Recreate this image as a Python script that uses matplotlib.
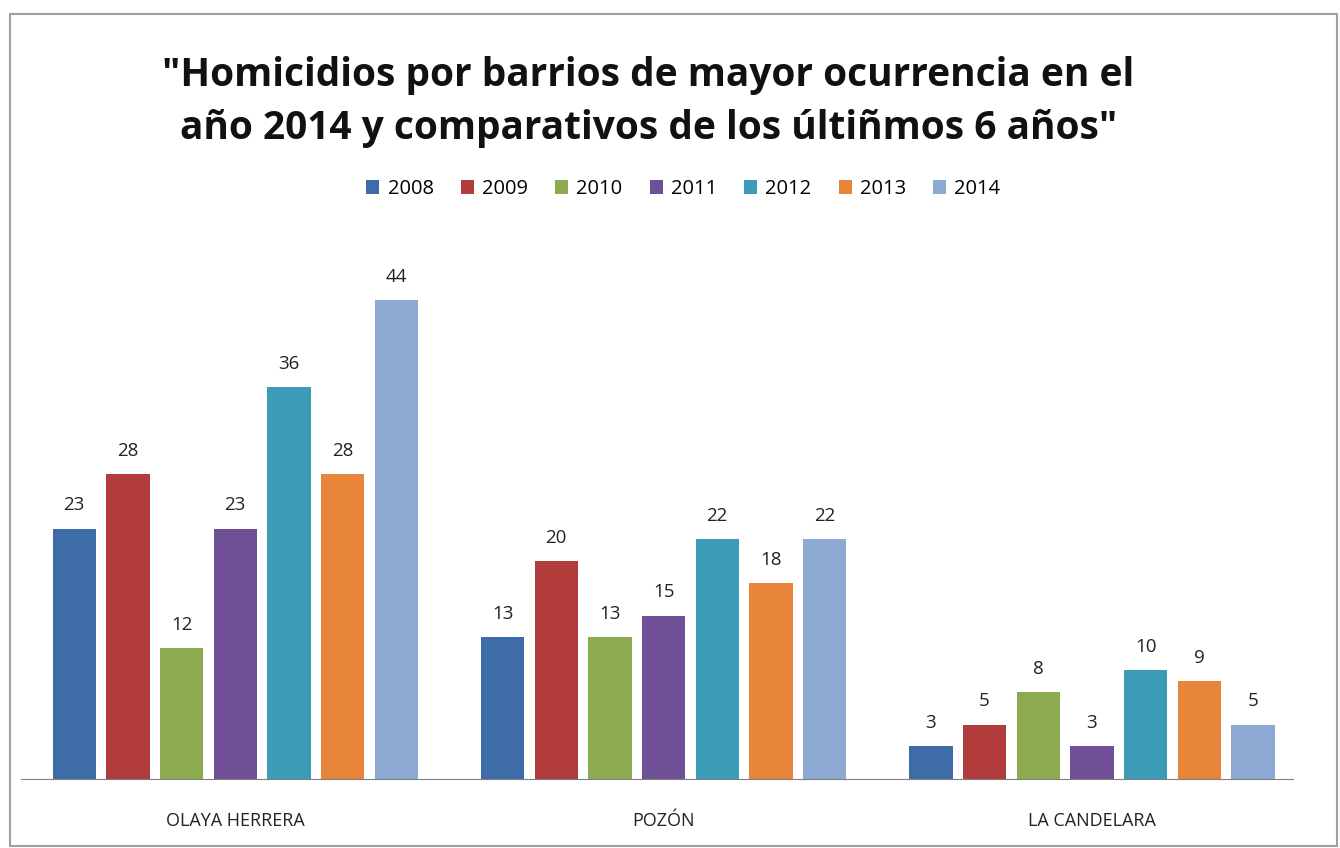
import numpy as np
import matplotlib.pyplot as plt
from matplotlib.patches import Rectangle

# data
barrios = ["OLAYA HERRERA", "POZÓN", "LA CANDELARA"]
years = ["2008", "2009", "2010", "2011", "2012", "2013", "2014"]
v2008 = [23, 13, 3]
v2009 = [28, 20, 5]
v2010 = [12, 13, 8]
v2011 = [23, 15, 3]
v2012 = [36, 22, 10]
v2013 = [28, 18, 9]
v2014 = [44, 22, 5]
series = [v2008, v2009, v2010, v2011, v2012, v2013, v2014]
colors = ["#3d6ca8", "#b13c3b", "#8cab50", "#6f5096", "#3c9cb7", "#e8853b", "#8ea9d4"]

plt.rcParams['font.family'] = ['Open Sans', 'DejaVu Sans']

fig = plt.figure(figsize=(13.4, 8.48), dpi=100)
fig.patch.set_facecolor("white")
fig.patches.append(Rectangle((0.0075, 0.002), 0.99, 0.9815, transform=fig.transFigure,
                             fill=False, edgecolor="#a0a0a0", linewidth=1.5))

ax = fig.add_axes([0.0157, 0.0814, 0.959, 0.6421])

x = np.arange(len(barrios))
step = 0.1253
width = 0.101
for i, (vals, c, yr) in enumerate(zip(series, colors, years)):
    pos = x + (i - 3) * step
    bars = ax.bar(pos, vals, width, color=c, label=yr)
    for b, v in zip(bars, vals):
        ax.text(b.get_x() + b.get_width() / 2, v + 1.3, str(v),
                ha="center", va="bottom", fontsize=13.5, color="#222222")

ax.set_xlim(-0.5, 2.5)
ax.set_ylim(0, 50)
ax.set_yticks([])
ax.set_xticks(x)
ax.set_xticklabels(barrios, fontsize=13, color="#222222")
ax.tick_params(axis="x", length=0, pad=24)
for s in ["top", "right", "left"]:
    ax.spines[s].set_visible(False)
ax.spines["bottom"].set_color("#808080")
ax.spines["bottom"].set_bounds(-0.5, 2.47)

fig.text(0.484, 0.911, '"Homicidios por barrios de mayor ocurrencia en el',
         ha="center", va="center", fontsize=28, fontweight="bold", color="#111111")
fig.text(0.484, 0.848, 'año 2014 y comparativos de los últiñmos 6 años"',
         ha="center", va="center", fontsize=28, fontweight="bold", color="#111111")

fig.legend(loc="center", bbox_to_anchor=(0.51, 0.777), ncol=7, frameon=False,
           fontsize=14.5, handlelength=0.65, handleheight=0.65, handletextpad=0.4,
           columnspacing=1.35)

fig.savefig("out.png", dpi=100, facecolor="white")
